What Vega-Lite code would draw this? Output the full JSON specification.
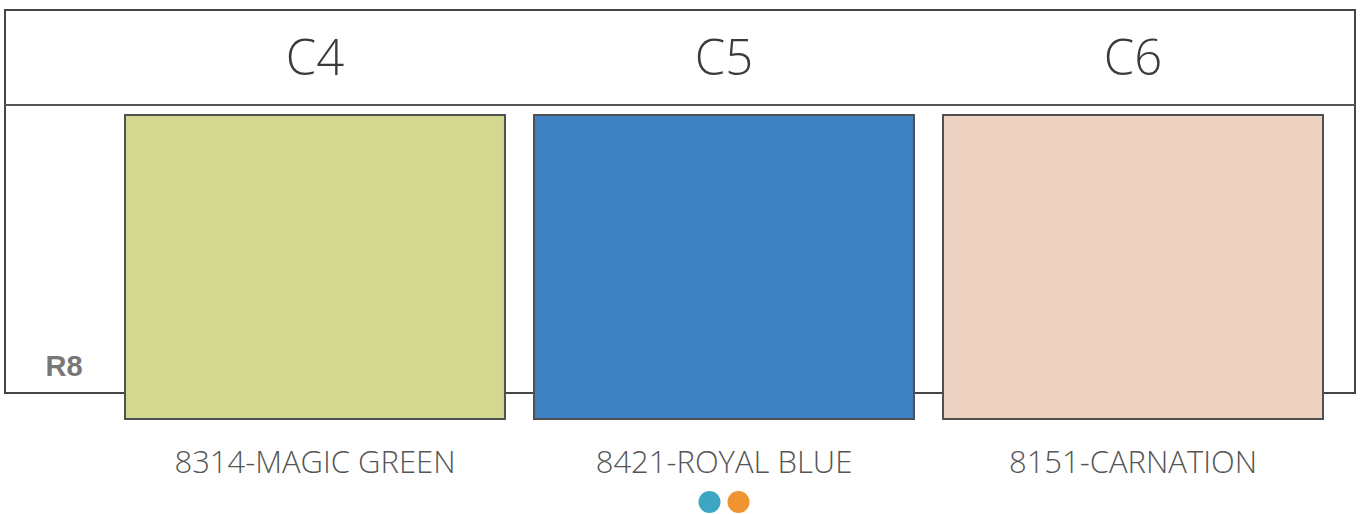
{
  "$schema": "https://vega.github.io/schema/vega-lite/v6.json",
  "width": 1350,
  "height": 383,
  "autosize": {"type": "none"},
  "padding": {"left": 5, "top": 10, "right": 6, "bottom": 121},
  "background": "#ffffff",
  "config": {"view": {"stroke": "#454545", "strokeWidth": 2}},
  "datasets": {
    "swatches": [
      {"column": "C4", "row": "R8", "name": "MAGIC GREEN", "label": "8314-MAGIC GREEN"},
      {"column": "C5", "row": "R8", "name": "ROYAL BLUE", "label": "8421-ROYAL BLUE"},
      {"column": "C6", "row": "R8", "name": "CARNATION", "label": "8151-CARNATION"}
    ],
    "dots": [
      {"column": "C5", "option": "teal"},
      {"column": "C5", "option": "orange"}
    ]
  },
  "resolve": {"scale": {"color": "independent"}},
  "layer": [
    {
      "data": {"values": [{}]},
      "mark": {"type": "rule", "color": "#555555", "strokeWidth": 2},
      "encoding": {
        "y": {"datum": 95, "type": "quantitative", "scale": {"domain": [0, 383], "range": [0, 383], "zero": false, "nice": false}, "axis": null}
      }
    },
    {
      "data": {"name": "swatches"},
      "mark": {"type": "text", "font": "Open Sans", "fontWeight": 300, "fontSize": 49, "baseline": "alphabetic", "align": "center", "color": "#3a3a3a"},
      "encoding": {
        "x": {"field": "column", "type": "nominal", "scale": {"type": "band", "domain": ["C4", "C5", "C6"], "range": [120, 1318], "paddingInner": 0.071, "paddingOuter": 0}, "axis": null},
        "y": {"datum": 65, "type": "quantitative"},
        "text": {"field": "column"}
      }
    },
    {
      "data": {"name": "swatches"},
      "transform": [{"filter": "datum.column === 'C4'"}],
      "mark": {"type": "text", "font": "Liberation Sans", "fontWeight": "bold", "fontSize": 29, "baseline": "alphabetic", "align": "center", "color": "#777777", "dx": -61},
      "encoding": {
        "x": {"field": "column", "type": "nominal", "bandPosition": 0},
        "y": {"datum": 366, "type": "quantitative"},
        "text": {"field": "row"}
      }
    },
    {
      "data": {"name": "swatches"},
      "mark": {"type": "rect", "stroke": "#505050", "strokeWidth": 2, "opacity": 1},
      "encoding": {
        "x": {"field": "column", "type": "nominal"},
        "y": {"datum": 105, "type": "quantitative"},
        "y2": {"datum": 409},
        "color": {"field": "name", "type": "nominal", "scale": {"domain": ["MAGIC GREEN", "ROYAL BLUE", "CARNATION"], "range": ["#D2D88F", "#3E82C3", "#EED3C3"]}, "legend": null}
      }
    },
    {
      "data": {"name": "swatches"},
      "mark": {"type": "text", "font": "Open Sans", "fontWeight": 300, "fontSize": 31, "baseline": "alphabetic", "align": "center", "color": "#555555"},
      "encoding": {
        "x": {"field": "column", "type": "nominal"},
        "y": {"datum": 463, "type": "quantitative"},
        "text": {"field": "label"}
      }
    },
    {
      "data": {"name": "dots"},
      "transform": [{"filter": "datum.option === 'teal'"}],
      "mark": {"type": "point", "shape": "circle", "filled": true, "size": 484, "opacity": 1},
      "encoding": {
        "x": {"field": "column", "type": "nominal"},
        "xOffset": {"value": 175.5},
        "y": {"datum": 492, "type": "quantitative"},
        "color": {"field": "option", "type": "nominal", "scale": {"domain": ["teal", "orange"], "range": ["#3DA6C3", "#EE9431"]}, "legend": null}
      }
    },
    {
      "data": {"name": "dots"},
      "transform": [{"filter": "datum.option === 'orange'"}],
      "mark": {"type": "point", "shape": "circle", "filled": true, "size": 484, "opacity": 1},
      "encoding": {
        "x": {"field": "column", "type": "nominal"},
        "xOffset": {"value": 204.5},
        "y": {"datum": 492, "type": "quantitative"},
        "color": {"field": "option", "type": "nominal", "scale": {"domain": ["teal", "orange"], "range": ["#3DA6C3", "#EE9431"]}, "legend": null}
      }
    }
  ]
}
